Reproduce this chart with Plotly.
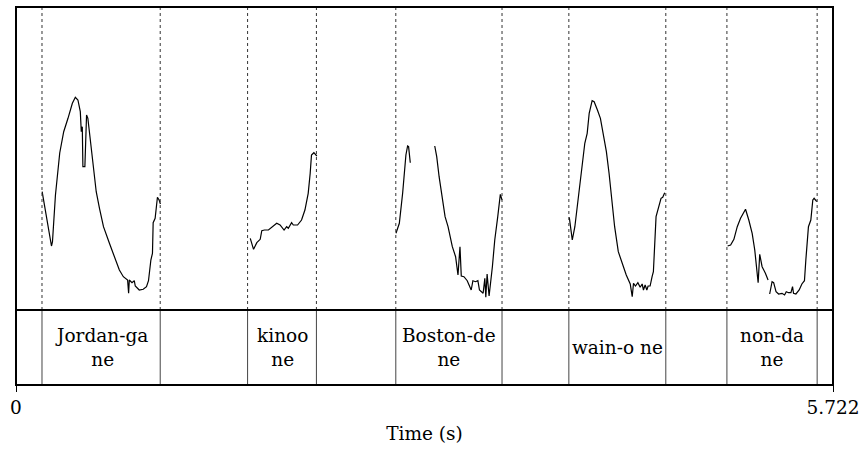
import plotly.graph_objects as go

# ---- pitch contour (time in s, F0 in Hz); None marks unvoiced gaps ----
t_jordan = [0.1831, 0.2485, 0.2555, 0.2763, 0.3063, 0.3341, 0.3641, 0.3947, 0.4156, 0.4337,
            0.4504, 0.4573, 0.4643, 0.4685, 0.4824, 0.4942, 0.5033, 0.5339, 0.5618, 0.5847,
            0.6126, 0.6543, 0.7010, 0.7239, 0.7518, 0.7748, 0.7817, 0.7887, 0.7936, 0.8124,
            0.8284, 0.8353, 0.8632, 0.8910, 0.9140, 0.9279, 0.9446, 0.9557, 0.9606, 0.9745,
            0.9905, 1.0024, 1.0114]
f_jordan = [178.3, 124.0, 128.3, 175.0, 217.0, 238.3, 251.7, 266.7, 272.7, 270.0,
            258.3, 238.3, 243.3, 203.3, 203.3, 255.0, 251.7, 213.3, 178.3, 161.7,
            143.3, 126.7, 110.0, 100.0, 93.3, 90.0, 90.0, 76.7, 90.0, 87.3,
            89.3, 84.0, 80.0, 80.7, 83.3, 89.3, 110.0, 116.7, 147.3, 151.7,
            172.7, 170.0, 166.0]

t_kinoo = [1.6407, 1.6637, 1.6866, 1.7103, 1.7215, 1.7402, 1.7681, 1.7980, 1.8259, 1.8495,
           1.8774, 1.8955, 1.9073, 1.9303, 1.9421, 1.9720, 1.9999, 2.0235, 2.0465, 2.0604,
           2.0695, 2.0862, 2.1001, 2.1071]
f_kinoo = [131.7, 120.7, 127.3, 130.7, 139.3, 140.0, 140.0, 143.3, 146.7, 145.0,
           140.0, 143.3, 141.7, 147.3, 145.0, 145.0, 150.0, 160.0, 176.7, 196.7,
           215.0, 217.3, 215.0, 214.0]

t_boston_a = [2.6612, 2.6848, 2.7078, 2.7308, 2.7426, 2.7496, 2.7614]
f_boston_a = [136.7, 146.7, 176.7, 215.0, 224.0, 223.3, 207.3]
t_boston_b = [2.9327, 2.9466, 2.9633, 2.9863, 3.0051, 3.0259, 3.0559, 3.0788, 3.0955, 3.1095,
              3.1185, 3.1373, 3.1603, 3.1881, 3.2000, 3.2181, 3.2348, 3.2459, 3.2716, 3.2835,
              3.2904, 3.2995, 3.3134, 3.3364, 3.3531, 3.3740, 3.3921, 3.4039]
f_boston_b = [224.0, 213.3, 193.3, 170.0, 153.3, 143.3, 123.3, 113.3, 95.0, 123.3,
              94.0, 93.3, 89.3, 80.0, 89.3, 88.3, 89.3, 80.0, 76.7, 91.7,
              72.7, 96.0, 74.0, 103.3, 130.0, 153.3, 175.7, 170.0]

t_wain = [3.8751, 3.8960, 3.9141, 3.9378, 3.9608, 3.9837, 4.0004, 4.0144, 4.0352, 4.0492,
          4.0721, 4.0930, 4.1160, 4.1348, 4.1536, 4.1696, 4.1926, 4.2183, 4.2510, 4.2740,
          4.3019, 4.3158, 4.3248, 4.3387, 4.3554, 4.3715, 4.3854, 4.3945, 4.4063, 4.4181,
          4.4271, 4.4411, 4.4550, 4.4641, 4.4828, 4.5016, 4.5176, 4.5294, 4.5433]
f_wain = [152.7, 130.0, 143.3, 170.0, 196.7, 226.7, 236.7, 256.7, 269.3, 268.3,
          260.0, 251.7, 233.3, 218.3, 196.7, 173.3, 143.3, 118.3, 105.0, 95.0,
          86.0, 73.3, 86.7, 84.0, 87.3, 82.7, 86.0, 80.0, 85.0, 80.0,
          84.0, 84.0, 93.3, 98.3, 153.3, 163.3, 171.7, 172.7, 177.3]

t_non_a = [4.9840, 5.0049, 5.0279, 5.0515, 5.0745, 5.1093, 5.1323, 5.1559, 5.1740, 5.1977,
           5.2088, 5.2255, 5.2485, 5.2673]
f_non_a = [124.0, 125.0, 130.7, 143.3, 151.7, 160.7, 150.0, 136.7, 120.0, 87.3,
           115.7, 103.3, 96.7, 90.0]
t_non_b = [5.2785, 5.2952, 5.3063, 5.3231, 5.3412, 5.3648, 5.3829, 5.3947, 5.4107, 5.4274,
           5.4386, 5.4455, 5.4622, 5.4852, 5.5040, 5.5221, 5.5318, 5.5500, 5.5667, 5.5806,
           5.5897, 5.6085]
f_non_b = [76.0, 88.3, 87.3, 78.3, 76.0, 76.7, 75.0, 78.3, 77.3, 77.3,
           83.3, 76.7, 76.0, 80.0, 86.0, 89.3, 110.0, 143.3, 150.0, 170.0,
           171.7, 168.3]

# ---- text grid tier ----
boundaries = [0.182, 1.010, 1.622, 2.104, 2.660, 3.404, 3.872, 4.551, 4.979, 5.611]
interval_labels = ["", "Jordan-ga<br>ne", "", "kinoo<br>ne", "", "Boston-de<br>ne", "",
                   "wain-o ne", "", "non-da<br>ne", ""]

t_total = 5.722
f0_min, f0_max = 60, 363

FONT = "DejaVu Serif"
FSIZE = 18.5

segments = [(t_jordan, f_jordan), (t_kinoo, f_kinoo), (t_boston_a, f_boston_a),
            (t_boston_b, f_boston_b), (t_wain, f_wain), (t_non_a, f_non_a), (t_non_b, f_non_b)]
xs, ys = [], []
for ts, fs in segments:
    xs += ts + [None]
    ys += fs + [None]

fig = go.Figure()
fig.add_trace(go.Scatter(x=xs, y=ys, mode="lines", connectgaps=False,
                         line=dict(color="black", width=1.2),
                         xaxis="x", yaxis="y", showlegend=False, hoverinfo="skip"))

tier_top = 75 / 378.0

shapes = []
# dotted boundary lines through the pitch panel, solid ones in the tier
for b in boundaries:
    shapes.append(dict(type="line", xref="x", yref="paper", x0=b, x1=b, y0=tier_top, y1=1,
                       line=dict(color="#333333", width=1, dash="dot")))
    shapes.append(dict(type="line", xref="x", yref="paper", x0=b, x1=b, y0=0, y1=tier_top,
                       line=dict(color="#444444", width=1)))
# outer frame and tier separator
shapes.append(dict(type="rect", xref="paper", yref="paper", x0=0, x1=1, y0=0, y1=1,
                   line=dict(color="black", width=2)))
shapes.append(dict(type="line", xref="paper", yref="paper", x0=0, x1=1, y0=tier_top, y1=tier_top,
                   line=dict(color="black", width=2)))

annotations = []
edges = [0.0] + boundaries + [t_total]
for i, lab in enumerate(interval_labels):
    if not lab:
        continue
    mid = (edges[i] + edges[i + 1]) / 2
    annotations.append(dict(x=mid, y=0.5, xref="x", yref="y2", text=lab, showarrow=False,
                            font=dict(family=FONT, size=FSIZE, color="black"),
                            xanchor="center", yanchor="middle"))

fig.update_layout(
    width=866, height=451,
    margin=dict(l=16, r=28, t=7, b=66),
    paper_bgcolor="white", plot_bgcolor="white",
    font=dict(family=FONT, size=FSIZE, color="black"),
    xaxis=dict(range=[0, t_total], tickvals=[0, t_total], ticktext=["0", "5.722"],
               ticks="outside", ticklen=6, tickwidth=1, tickcolor="black",
               showgrid=False, zeroline=False, showline=False,
               tickfont=dict(family=FONT, size=FSIZE),
               title=dict(text="Time (s)", font=dict(family=FONT, size=FSIZE), standoff=9),
               anchor="y2"),
    yaxis=dict(domain=[tier_top, 1], range=[f0_min, f0_max], visible=False, showgrid=False),
    yaxis2=dict(domain=[0, tier_top], range=[0, 1], visible=False, showgrid=False),
    shapes=shapes,
    annotations=annotations,
)

fig.write_html("out.html")
